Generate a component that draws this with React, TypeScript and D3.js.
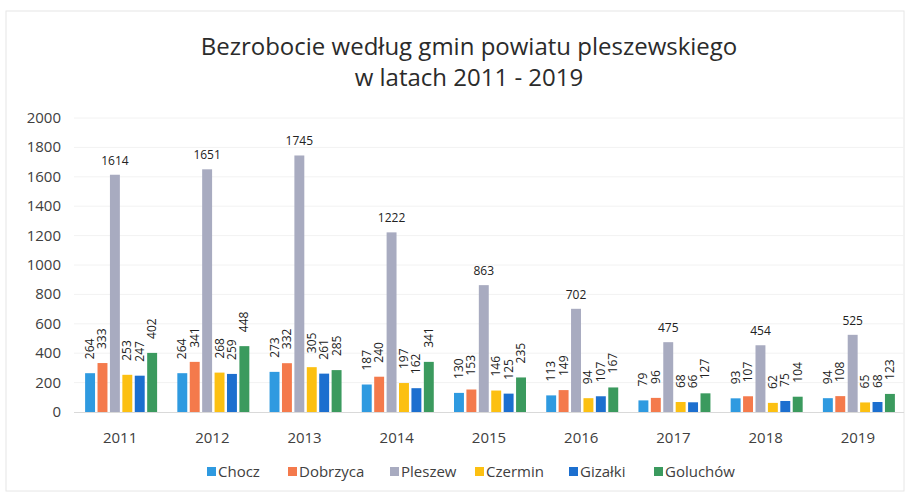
import React from "react";
import * as d3 from "d3";

const years = ["2011", "2012", "2013", "2014", "2015", "2016", "2017", "2018", "2019"];
const seriesNames = ["Chocz", "Dobrzyca", "Pleszew", "Czermin", "Gizałki", "Goluchów"];
const seriesColors = ["#2f9ae0", "#f47a4c", "#a8abc0", "#fcc012", "#1c6fcf", "#3b9a5e"];
const chocz = [264, 264, 273, 187, 130, 113, 79, 93, 94];
const dobrzyca = [333, 341, 332, 240, 153, 149, 96, 107, 108];
const pleszew = [1614, 1651, 1745, 1222, 863, 702, 475, 454, 525];
const czermin = [253, 268, 305, 197, 146, 94, 68, 62, 65];
const gizalki = [247, 259, 261, 162, 125, 107, 66, 75, 68];
const goluchow = [402, 448, 285, 341, 235, 167, 127, 104, 123];
const yTicks = [0, 200, 400, 600, 800, 1000, 1200, 1400, 1600, 1800, 2000];

const seriesValues = [chocz, dobrzyca, pleszew, czermin, gizalki, goluchow];

export default function App() {
  const W = 910, H = 495;
  const x = d3.scaleBand<string>().domain(years).range([74, 904]).paddingInner(0).paddingOuter(0);
  const y = d3.scaleLinear().domain([0, 2000]).range([412, 118]);
  const groupW = 72;
  const xs = d3.scaleBand<string>().domain(seriesNames).range([0, groupW]).paddingInner(0.2);
  const font = "'Open Sans', sans-serif";
  const legendX = [207, 288, 390, 475, 569, 654];

  return (
    <svg width={W} height={H} style={{ position: "absolute", left: 0, top: 0, background: "#fff" }}>
      <rect x={6} y={11} width={898} height={480} fill="#fff" stroke="#e6e6e6" strokeWidth={1} />
      <text x={469} y={55} textAnchor="middle" fontFamily={font} fontSize={24} fill="#2b2b2b">
        Bezrobocie według gmin powiatu pleszewskiego
      </text>
      <text x={469} y={86} textAnchor="middle" fontFamily={font} fontSize={24} fill="#2b2b2b">
        w latach 2011 - 2019
      </text>
      {yTicks.map((t) => (
        <g key={t}>
          {t > 0 && <line x1={74} x2={904} y1={y(t)} y2={y(t)} stroke="#f2f2f2" strokeWidth={1} />}
          <text x={61} y={y(t) + 5} textAnchor="end" fontFamily={font} fontSize={15} fill="#404040">
            {t}
          </text>
        </g>
      ))}
      <line x1={74} x2={904} y1={y(0) + 0.5} y2={y(0) + 0.5} stroke="#d9d9d9" strokeWidth={1} />
      {years.map((yr, i) => {
        const gx = (x(yr) as number) + (x.bandwidth() - groupW) / 2 + 1;
        return (
          <g key={yr}>
            {seriesNames.map((s, j) => {
              const v = seriesValues[j][i];
              const bx = gx + (xs(s) as number);
              const bw = xs.bandwidth();
              const cx = bx + bw / 2;
              return (
                <g key={s}>
                  <rect x={bx} y={y(v)} width={bw} height={y(0) - y(v)} fill={seriesColors[j]} />
                  {j === 2 ? (
                    <text x={cx} y={y(v) - 10} textAnchor="middle" fontFamily={font} fontSize={12} fill="#222">
                      {v}
                    </text>
                  ) : (
                    <text
                      transform={`translate(${cx + 4},${y(v) - 14}) rotate(-90)`}
                      textAnchor="start"
                      fontFamily={font}
                      fontSize={12}
                      fill="#222"
                    >
                      {v}
                    </text>
                  )}
                </g>
              );
            })}
            <text x={(x(yr) as number) + x.bandwidth() / 2} y={443} textAnchor="middle" fontFamily={font} fontSize={15} fill="#404040">
              {yr}
            </text>
          </g>
        );
      })}
      {seriesNames.map((s, j) => (
        <g key={s}>
          <rect x={legendX[j]} y={467} width={9} height={9} fill={seriesColors[j]} />
          <text x={legendX[j] + 11} y={477} fontFamily={font} fontSize={15} fill="#404040">
            {s}
          </text>
        </g>
      ))}
    </svg>
  );
}
